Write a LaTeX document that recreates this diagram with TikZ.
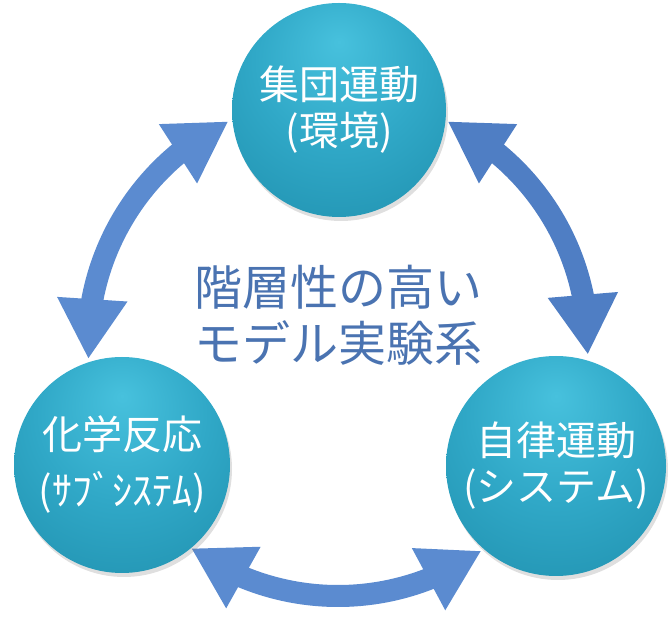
\documentclass[tikz,border=0pt]{standalone}
\usepackage{fontspec}
\setmainfont{Noto Sans CJK JP}
\usetikzlibrary{arrows.meta,bending,calc,positioning,shadows}
\definecolor{HMhi}{HTML}{47C1DD}
\definecolor{HMlight}{HTML}{30A8C7}
\definecolor{HMmid}{HTML}{2192B0}
\definecolor{HMdeep}{HTML}{1A7C97}
\definecolor{HMedge}{HTML}{0E5164}
\definecolor{HMrim}{HTML}{1B7D98}
\definecolor{HMarrow}{HTML}{5B8BD0}
\definecolor{HMarrowdk}{HTML}{4F7EC4}
\definecolor{HMink}{HTML}{4A73B1}
\pgfdeclareradialshading{HMball}{\pgfpoint{0bp}{16bp}}{%
  color(0bp)=(HMhi); color(20bp)=(HMlight); color(40bp)=(HMmid);
  color(50bp)=(HMdeep); color(56bp)=(HMedge); color(62bp)=(HMrim);
  color(70bp)=(HMrim)}

\begin{document}
\begin{tikzpicture}[
  x=1pt,y=1pt,
  sphere/.style={circle,shading=HMball,inner sep=0pt,text=white,align=center,
    font=\fontsize{40}{46}\selectfont,
    drop shadow={shadow xshift=2pt,shadow yshift=-4pt,opacity=0.25}},
  link/.style={draw=HMarrow,line width=22pt,
    {Triangle[length=60pt,width=66pt]}-{Triangle[length=60pt,width=66pt]}},
  title/.style={text=HMink,align=center,font=\fontsize{48}{56}\selectfont}
]

\useasboundingbox (0,0) rectangle (669,626);

% ring of arrows round one centre
\coordinate (hub) at (338,280);
\draw[link] ([shift={(116:250)}]hub) arc[start angle=116,end angle=183,radius=250];
\draw[link,draw=HMarrowdk] ([shift={(64:250)}]hub) arc[start angle=64,end angle=-2,radius=250];
\draw[link] ([shift={(234:250)}]hub) arc[start angle=234,end angle=305,radius=250];

\node[sphere,minimum size=214pt] (group) at (339,516)
  {集団運動\\(環境)};
\node[sphere,minimum size=216pt] (chem) at (122,161)
  {化学反応\\[10pt](ｻﾌﾞｼｽﾃﾑ)};
\node[sphere,minimum size=220pt] (self) at (556,160)
  {自律運動\\(システム)};

\node[title] (model) at (338,311) {階層性の高い\\モデル実験系};

\end{tikzpicture}
\end{document}
